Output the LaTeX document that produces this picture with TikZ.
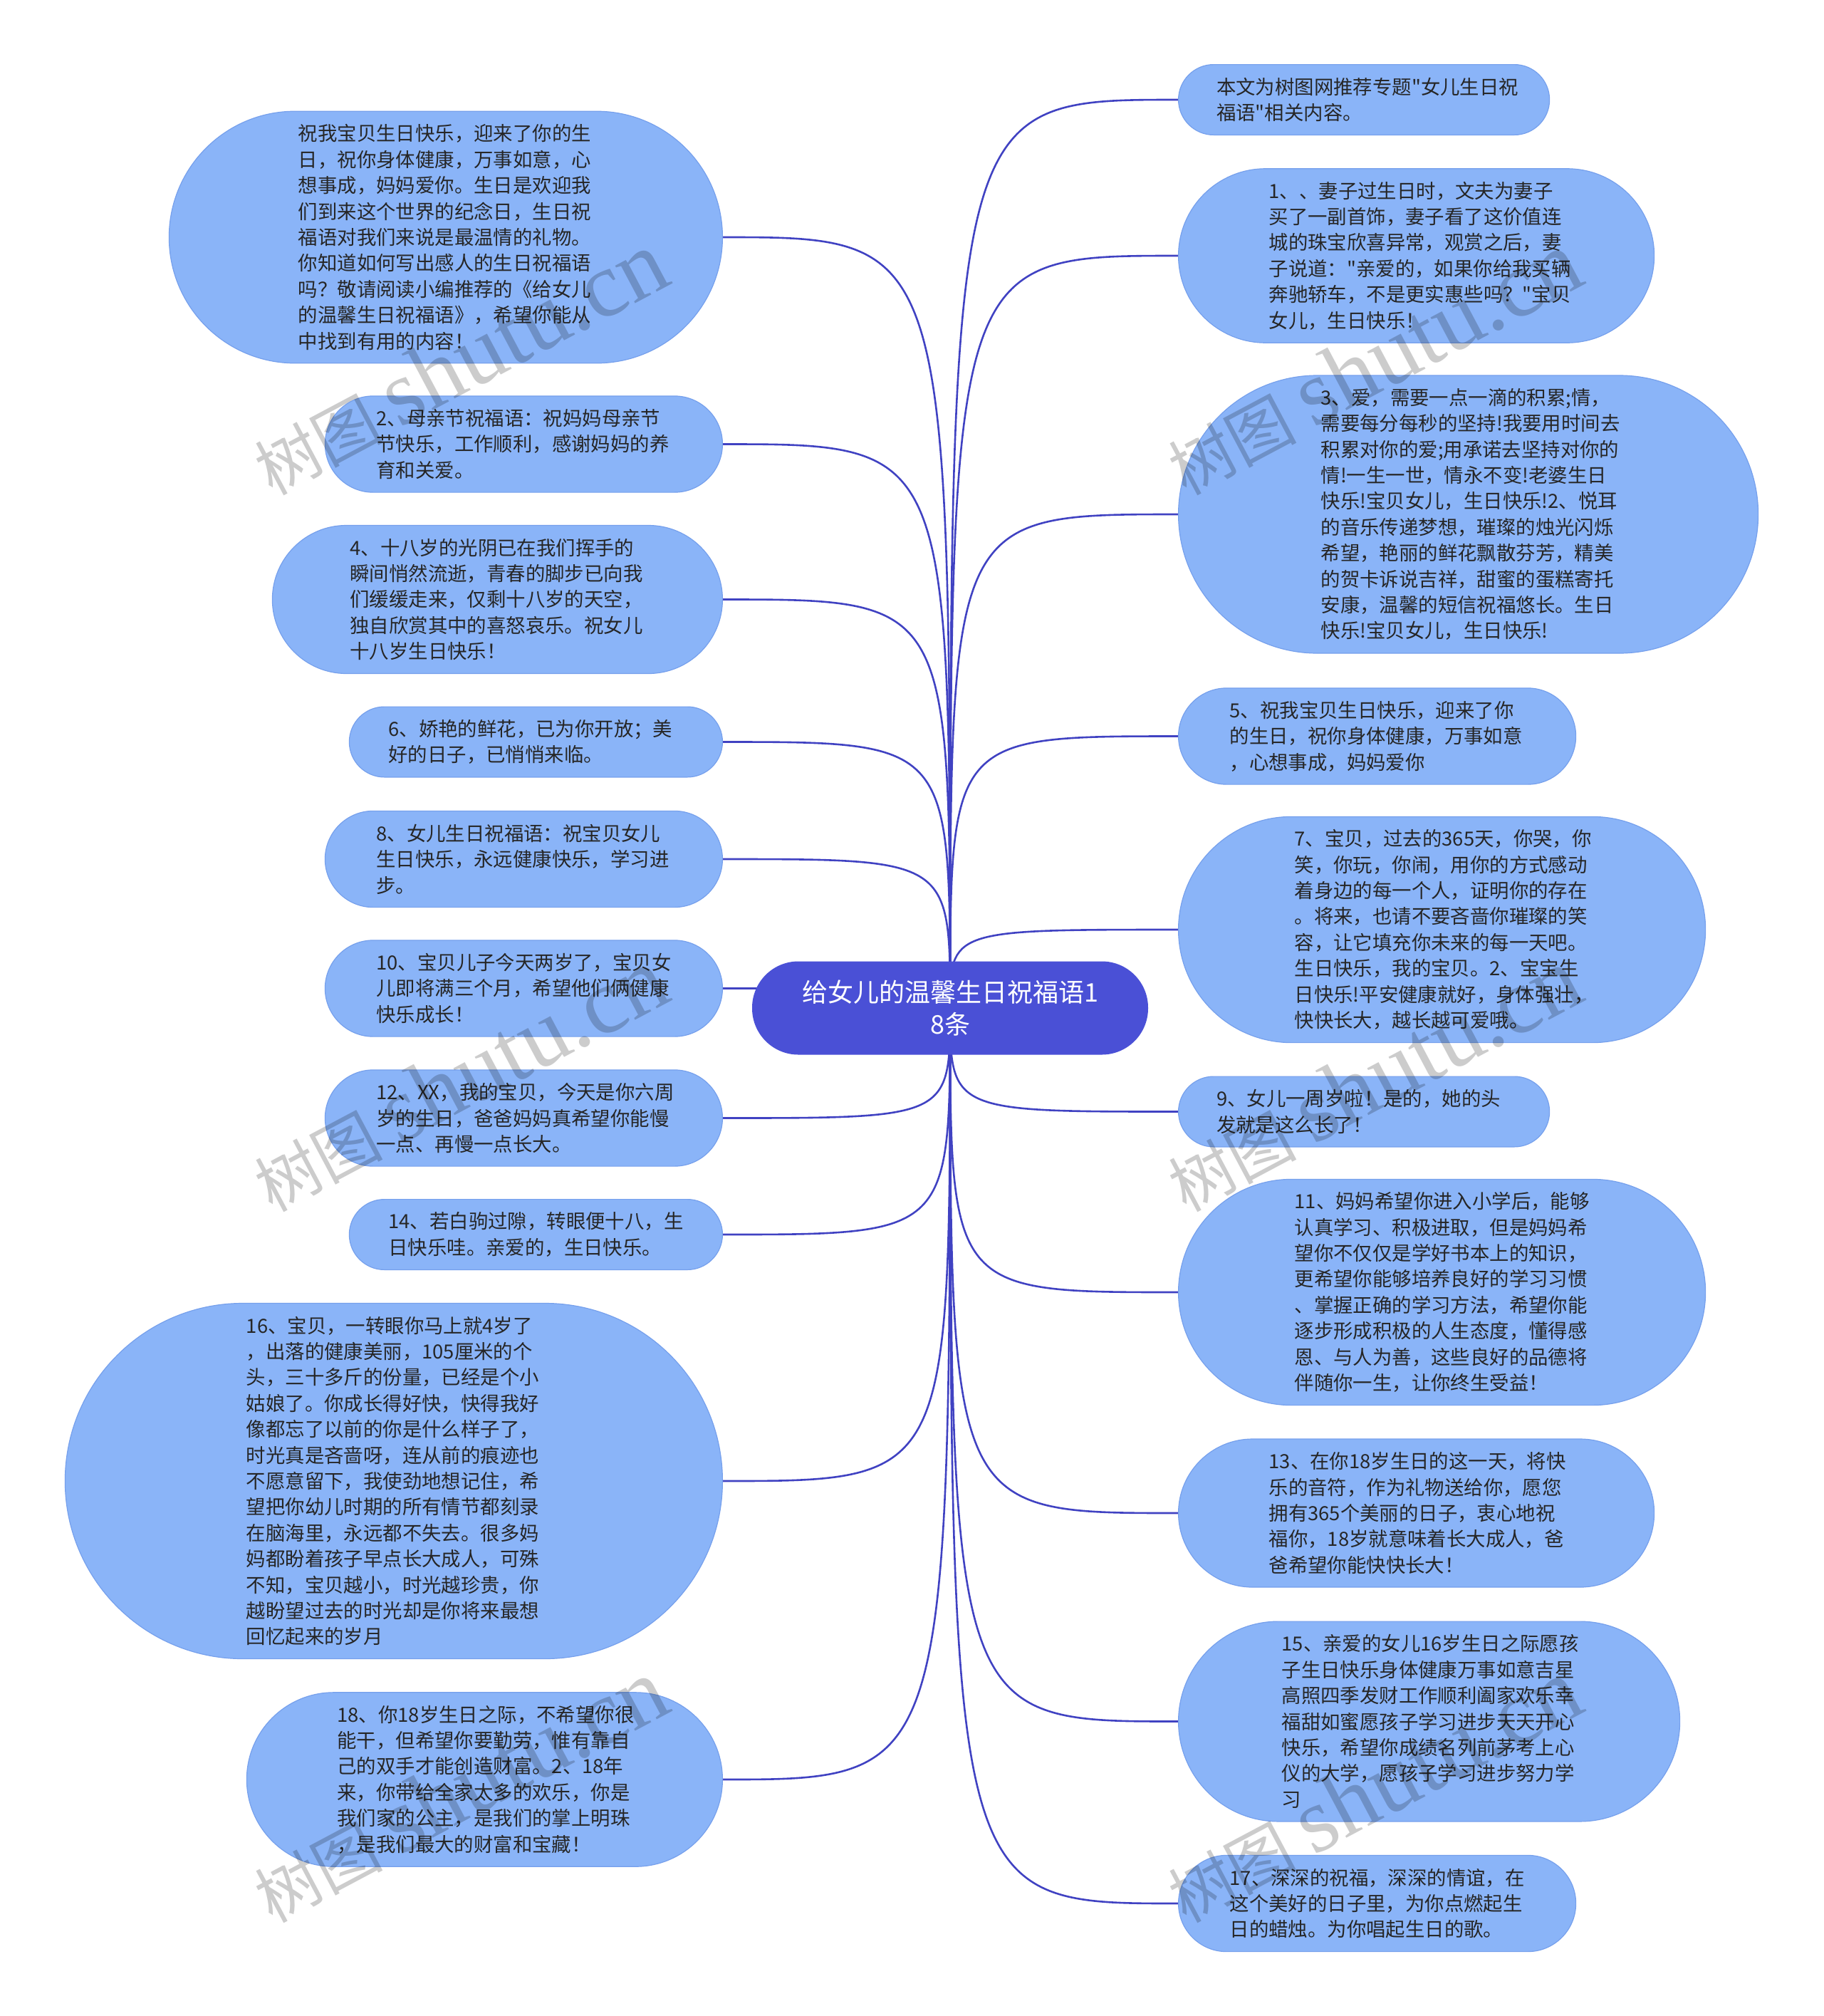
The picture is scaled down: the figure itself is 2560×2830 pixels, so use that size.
\documentclass[tikz,border=0pt]{standalone}
\usepackage{fontspec}
\setmainfont{Noto Sans CJK SC}[Ligatures=TeXOff]
\newfontfamily\markfont{Liberation Serif}
\usetikzlibrary{backgrounds}

\definecolor{leafblue}{RGB}{138,180,248}
\definecolor{leafedge}{RGB}{118,160,236}
\definecolor{hubblue}{RGB}{74,80,214}
\definecolor{linkblue}{RGB}{64,66,194}
\definecolor{inkgray}{RGB}{38,38,38}

\tikzset{
  leaf/.style 2 args={draw=leafedge, line width=1.2pt, fill=leafblue, text=inkgray,
    minimum width=#1, minimum height=#2, rounded corners=0.5*#2,
    text width=414pt, align=left, inner sep=0pt,
    font=\fontsize{27.4}{36.4}\selectfont},
  hub/.style={fill=hubblue, text=white, minimum width=556pt, minimum height=131pt,
    rounded corners=65pt, align=center, inner sep=0pt,
    font=\fontsize{36}{45}\selectfont},
  link/.style={draw=linkblue, line width=2.6pt},
  stamp/.style={rotate=28, text=black, text opacity=0.2, inner sep=0pt,
    font=\fontsize{90}{90}\selectfont}
}

\begin{document}
\begin{tikzpicture}[x=1pt, y=-1pt]
        \useasboundingbox (0,0) rectangle (2560,2830);

        \node[hub] (hub) at (1334,1415) {给女儿的温馨生日祝福语1\\8条};

        % left branch
        \node[leaf={777pt}{353.6pt}, anchor=east] (L1) at (1015,333) {祝我宝贝生日快乐，迎来了你的生\\日，祝你身体健康，万事如意，心\\想事成，妈妈爱你。生日是欢迎我\\们到来这个世界的纪念日，生日祝\\福语对我们来说是最温情的礼物。\\你知道如何写出感人的生日祝福语\\吗？敬请阅读小编推荐的《给女儿\\的温馨生日祝福语》，希望你能从\\中找到有用的内容！};
        \node[leaf={558pt}{135.2pt}, anchor=east] (L2) at (1015,623.5) {2、母亲节祝福语：祝妈妈母亲节\\节快乐，工作顺利，感谢妈妈的养\\育和关爱。};
        \node[leaf={632pt}{208pt}, anchor=east] (L4) at (1015,841.5) {4、十八岁的光阴已在我们挥手的\\瞬间悄然流逝，青春的脚步已向我\\们缓缓走来，仅剩十八岁的天空，\\独自欣赏其中的喜怒哀乐。祝女儿\\十八岁生日快乐！};
        \node[leaf={524pt}{98.8pt}, anchor=east] (L6) at (1015,1041.5) {6、娇艳的鲜花，已为你开放；美\\好的日子，已悄悄来临。};
        \node[leaf={558pt}{135.2pt}, anchor=east] (L8) at (1015,1206) {8、女儿生日祝福语：祝宝贝女儿\\生日快乐，永远健康快乐，学习进\\步。};
        \node[leaf={558pt}{135.2pt}, anchor=east] (L10) at (1015,1387.5) {10、宝贝儿子今天两岁了，宝贝女\\儿即将满三个月，希望他们俩健康\\快乐成长！};
        \node[leaf={558pt}{135.2pt}, anchor=east] (L12) at (1015,1569.5) {12、XX，我的宝贝，今天是你六周\\岁的生日，爸爸妈妈真希望你能慢\\一点、再慢一点长大。};
        \node[leaf={524pt}{98.8pt}, anchor=east] (L14) at (1015,1733) {14、若白驹过隙，转眼便十八，生\\日快乐哇。亲爱的，生日快乐。};
        \node[leaf={923pt}{499pt}, anchor=east] (L16) at (1015,2079) {16、宝贝，一转眼你马上就4岁了\\，出落的健康美丽，105厘米的个\\头，三十多斤的份量，已经是个小\\姑娘了。你成长得好快，快得我好\\像都忘了以前的你是什么样子了，\\时光真是吝啬呀，连从前的痕迹也\\不愿意留下，我使劲地想记住，希\\望把你幼儿时期的所有情节都刻录\\在脑海里，永远都不失去。很多妈\\妈都盼着孩子早点长大成人，可殊\\不知，宝贝越小，时光越珍贵，你\\越盼望过去的时光却是你将来最想\\回忆起来的岁月};
        \node[leaf={668pt}{244.4pt}, anchor=east] (L18) at (1015,2498) {18、你18岁生日之际，不希望你很\\能干，但希望你要勤劳，惟有靠自\\己的双手才能创造财富。2、18年\\来，你带给全家太多的欢乐，你是\\我们家的公主，是我们的掌上明珠\\，是我们最大的财富和宝藏！};

        % right branch
        \node[leaf={521pt}{98.8pt}, anchor=west] (R0) at (1654,140) {本文为树图网推荐专题"女儿生日祝\\福语"相关内容。};
        \node[leaf={668pt}{244.4pt}, anchor=west] (R1) at (1654,359) {1、、妻子过生日时，文夫为妻子\\买了一副首饰，妻子看了这价值连\\城的珠宝欣喜异常，观赏之后，妻\\子说道："亲爱的，如果你给我买辆\\奔驰轿车，不是更实惠些吗？"宝贝\\女儿，生日快乐！};
        \node[leaf={814pt}{390pt}, anchor=west] (R3) at (1654,722) {3、爱，需要一点一滴的积累;情，\\需要每分每秒的坚持!我要用时间去\\积累对你的爱;用承诺去坚持对你的\\情!一生一世，情永不变!老婆生日\\快乐!宝贝女儿，生日快乐!2、悦耳\\的音乐传递梦想，璀璨的烛光闪烁\\希望，艳丽的鲜花飘散芬芳，精美\\的贺卡诉说吉祥，甜蜜的蛋糕寄托\\安康，温馨的短信祝福悠长。生日\\快乐!宝贝女儿，生日快乐!};
        \node[leaf={558pt}{135.2pt}, anchor=west] (R5) at (1654,1033.5) {5、祝我宝贝生日快乐，迎来了你\\的生日，祝你身体健康，万事如意\\，心想事成，妈妈爱你};
        \node[leaf={740pt}{317.2pt}, anchor=west] (R7) at (1654,1305) {7、宝贝，过去的365天，你哭，你\\笑，你玩，你闹，用你的方式感动\\着身边的每一个人，证明你的存在\\。将来，也请不要吝啬你璀璨的笑\\容，让它填充你未来的每一天吧。\\生日快乐，我的宝贝。2、宝宝生\\日快乐!平安健康就好，身体强壮，\\快快长大，越长越可爱哦。};
        \node[leaf={521pt}{98.8pt}, anchor=west] (R9) at (1654,1560.5) {9、女儿一周岁啦！是的，她的头\\发就是这么长了！};
        \node[leaf={740pt}{317.2pt}, anchor=west] (R11) at (1654,1814) {11、妈妈希望你进入小学后，能够\\认真学习、积极进取，但是妈妈希\\望你不仅仅是学好书本上的知识，\\更希望你能够培养良好的学习习惯\\、掌握正确的学习方法，希望你能\\逐步形成积极的人生态度，懂得感\\恩、与人为善，这些良好的品德将\\伴随你一生，让你终生受益！};
        \node[leaf={668pt}{208pt}, anchor=west] (R13) at (1654,2124) {13、在你18岁生日的这一天，将快\\乐的音符，作为礼物送给你，愿您\\拥有365个美丽的日子，衷心地祝\\福你，18岁就意味着长大成人，爸\\爸希望你能快快长大！};
        \node[leaf={704pt}{280.8pt}, anchor=west] (R15) at (1654,2416.5) {15、亲爱的女儿16岁生日之际愿孩\\子生日快乐身体健康万事如意吉星\\高照四季发财工作顺利阖家欢乐幸\\福甜如蜜愿孩子学习进步天天开心\\快乐，希望你成绩名列前茅考上心\\仪的大学，愿孩子学习进步努力学\\习};
        \node[leaf={558pt}{135.2pt}, anchor=west] (R17) at (1654,2672) {17、深深的祝福，深深的情谊，在\\这个美好的日子里，为你点燃起生\\日的蜡烛。为你唱起生日的歌。};

        \begin{scope}[on background layer]
            \foreach \n in {L1,L2,L4,L6,L8,L10,L12,L14,L16,L18}
                \draw[link] (hub.center) .. controls (hub.center |- \n.east) .. (\n.east);
            \foreach \n in {R0,R1,R3,R5,R7,R9,R11,R13,R15,R17}
                \draw[link] (hub.center) .. controls (hub.center |- \n.west) .. (\n.west);
        \end{scope}

        % watermark
        \foreach \wx in {645,1928}
            \foreach \wy in {510,1516,2514}
                \node[stamp] (wm-\wx-\wy) at (\wx,\wy) {树图\hspace{0.25em}{\markfont\fontsize{130}{130}\selectfont shutu.cn}};
    \end{tikzpicture}
\end{document}
